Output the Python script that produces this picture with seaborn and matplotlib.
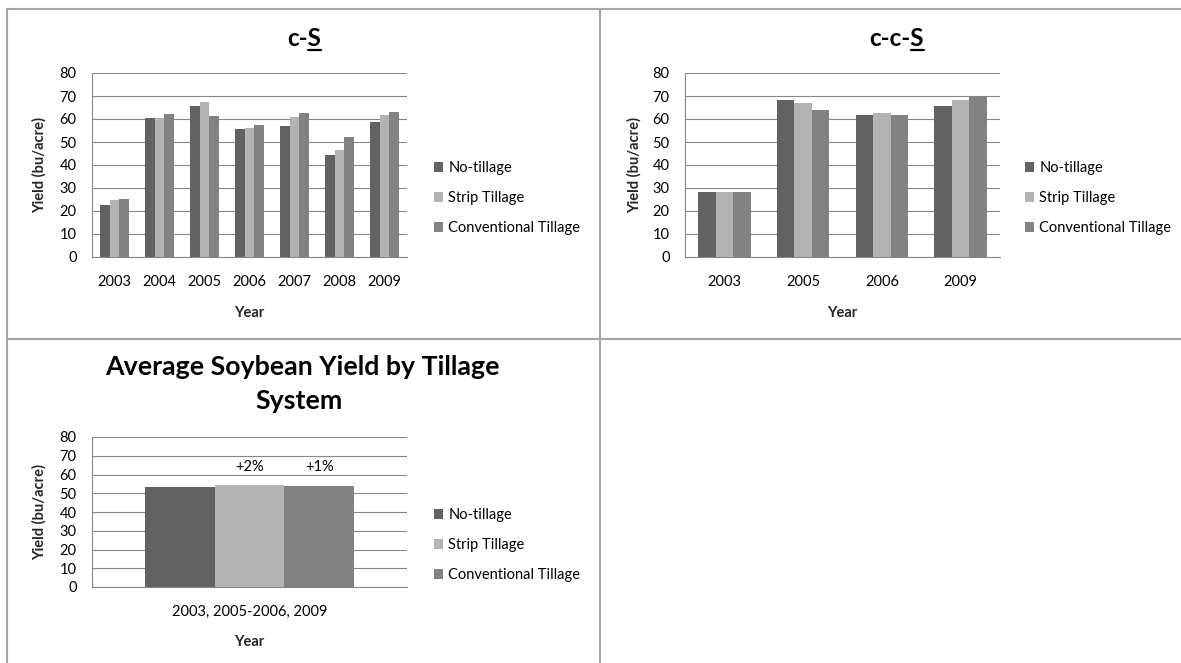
import matplotlib
matplotlib.use("Agg")
import matplotlib.pyplot as plt
import numpy as np
import pandas as pd
import seaborn as sns
from matplotlib.lines import Line2D

systems = ["No-tillage", "Strip Tillage", "Conventional Tillage"]
colors = ["#626262", "#b3b3b3", "#828282"]

cs_years = ["2003", "2004", "2005", "2006", "2007", "2008", "2009"]
cs_no_till = [22.7, 60.3, 65.8, 55.8, 56.8, 44.2, 58.8]
cs_strip = [24.6, 60.3, 67.2, 56.2, 60.7, 46.7, 61.7]
cs_conv = [25.2, 62.2, 61.3, 57.3, 62.7, 52.2, 63.2]

ccs_years = ["2003", "2005", "2006", "2009"]
ccs_no_till = [28.2, 68.3, 61.8, 65.8]
ccs_strip = [28.2, 66.8, 62.7, 68.2]
ccs_conv = [28.2, 63.8, 61.8, 69.8]

avg_period = ["2003, 2005-2006, 2009"]
avg_no_till = [53.5]
avg_strip = [54.6]
avg_conv = [53.9]

W, H = 1181, 663
GRID = "#878787"
BORDER = "#a6a6a6"


def long_table(years, no_till, strip, conv):
    rows = []
    for name, vals in zip(systems, [no_till, strip, conv]):
        for y, v in zip(years, vals):
            rows.append((y, name, v))
    return pd.DataFrame(rows, columns=["year", "system", "yield"])


def px_rect(left, top, right, bottom):
    return [left / W, 1 - bottom / H, (right - left) / W, (bottom - top) / H]


def style_axis(ax, n, ylab_x, year_y):
    ax.set_ylim(0, 80)
    ax.set_yticks(range(0, 81, 10))
    ax.set_xlim(-0.5, n - 0.5)
    ax.yaxis.grid(True, color=GRID, linewidth=0.8)
    ax.xaxis.grid(False)
    ax.set_axisbelow(True)
    for side in ["top", "right"]:
        ax.spines[side].set_visible(False)
    for side in ["left", "bottom"]:
        ax.spines[side].set_visible(True)
        ax.spines[side].set_color(GRID)
        ax.spines[side].set_linewidth(0.8)
    ax.set_xticks(np.arange(-0.5, n), minor=True)
    ax.tick_params(axis="x", which="minor", length=5, width=0.8, color=GRID, direction="out")
    ax.tick_params(axis="x", which="major", length=0, pad=13, labelsize=10.5)
    ax.tick_params(axis="y", length=5, width=0.8, color=GRID, direction="out", pad=6, labelsize=10.5)
    ax.set_ylabel("Yield (bu/acre)", fontsize=10.5, fontweight="bold")
    ax.set_xlabel("Year", fontsize=10.5, fontweight="bold")
    ax.yaxis.set_label_coords(ylab_x, 0.5)
    ax.xaxis.set_label_coords(0.5, year_y)


def draw_bars(ax, data, legend_x, legend_y):
    sns.barplot(
        data=data, x="year", y="yield", hue="system", hue_order=systems,
        palette=dict(zip(systems, colors)), width=0.665, gap=0, saturation=1,
        linewidth=0, errorbar=None, ax=ax,
    )
    sns.move_legend(
        ax, "center left", bbox_to_anchor=(legend_x / W, 1 - legend_y / H),
        bbox_transform=fig.transFigure, frameon=False, title=None,
        handlelength=0.62, handleheight=0.62, handletextpad=0.35,
        labelspacing=1.1, borderpad=0, borderaxespad=0, fontsize=10.5,
    )


sns.set_theme(style="white")
plt.rcParams["font.family"] = ["Lato", "DejaVu Sans"]
plt.rcParams["text.color"] = "black"
plt.rcParams["xtick.color"] = "black"
plt.rcParams["ytick.color"] = "black"

fig = plt.figure(figsize=(W / 100, H / 100), dpi=100)

ax1 = fig.add_axes(px_rect(92, 73, 407, 257))
draw_bars(ax1, long_table(cs_years, cs_no_till, cs_strip, cs_conv), 434, 198)
style_axis(ax1, len(cs_years), -0.144, -0.265)

ax2 = fig.add_axes(px_rect(685, 73, 1000, 257))
draw_bars(ax2, long_table(ccs_years, ccs_no_till, ccs_strip, ccs_conv), 1025, 198)
style_axis(ax2, len(ccs_years), -0.137, -0.265)

ax3 = fig.add_axes(px_rect(92, 437, 407, 587))
draw_bars(ax3, long_table(avg_period, avg_no_till, avg_strip, avg_conv), 434, 545)
style_axis(ax3, 1, -0.144, -0.32)

# percent change vs no-tillage above the bars
base = avg_no_till[0]
for offset, val in [(0, avg_strip[0]), (0.222, avg_conv[0])]:
    pct = (val / base - 1) * 100
    ax3.text(offset, 64, f"+{pct:.0f}%", ha="center", va="center", fontsize=10.5)

# titles with underlined S
renderer = fig.canvas.get_renderer()
for cx, label in [(304, "c-S"), (897, "c-c-S")]:
    t = fig.text(cx / W, 1 - 46.5 / H, label, ha="center", va="baseline",
                 fontsize=17.5, fontweight="bold")
    bb = t.get_window_extent(renderer)
    s = fig.text(0, 0, "S", fontsize=17.5, fontweight="bold")
    sw = s.get_window_extent(renderer).width
    s.remove()
    x1 = bb.x1
    x0 = x1 - sw
    y = H - 49.5
    fig.add_artist(Line2D([x0 / W, x1 / W], [y / H, y / H], transform=fig.transFigure,
                          color="black", linewidth=1.6))

fig.text(302 / W, 1 - 375 / H, "Average Soybean Yield by Tillage", ha="center",
         va="baseline", fontsize=19.3, fontweight="bold")
fig.text(299 / W, 1 - 409 / H, "System", ha="center",
         va="baseline", fontsize=19.3, fontweight="bold")

# table borders
for xs, ys in [
    ([7, W], [9, 9]),
    ([7, 7], [9, H]),
    ([600, 600], [9, H]),
    ([7, W], [339, 339]),
]:
    fig.add_artist(Line2D([x / W for x in xs], [1 - y / H for y in ys],
                          transform=fig.transFigure, color=BORDER, linewidth=1.5))

fig.savefig("out.png", dpi=100)
